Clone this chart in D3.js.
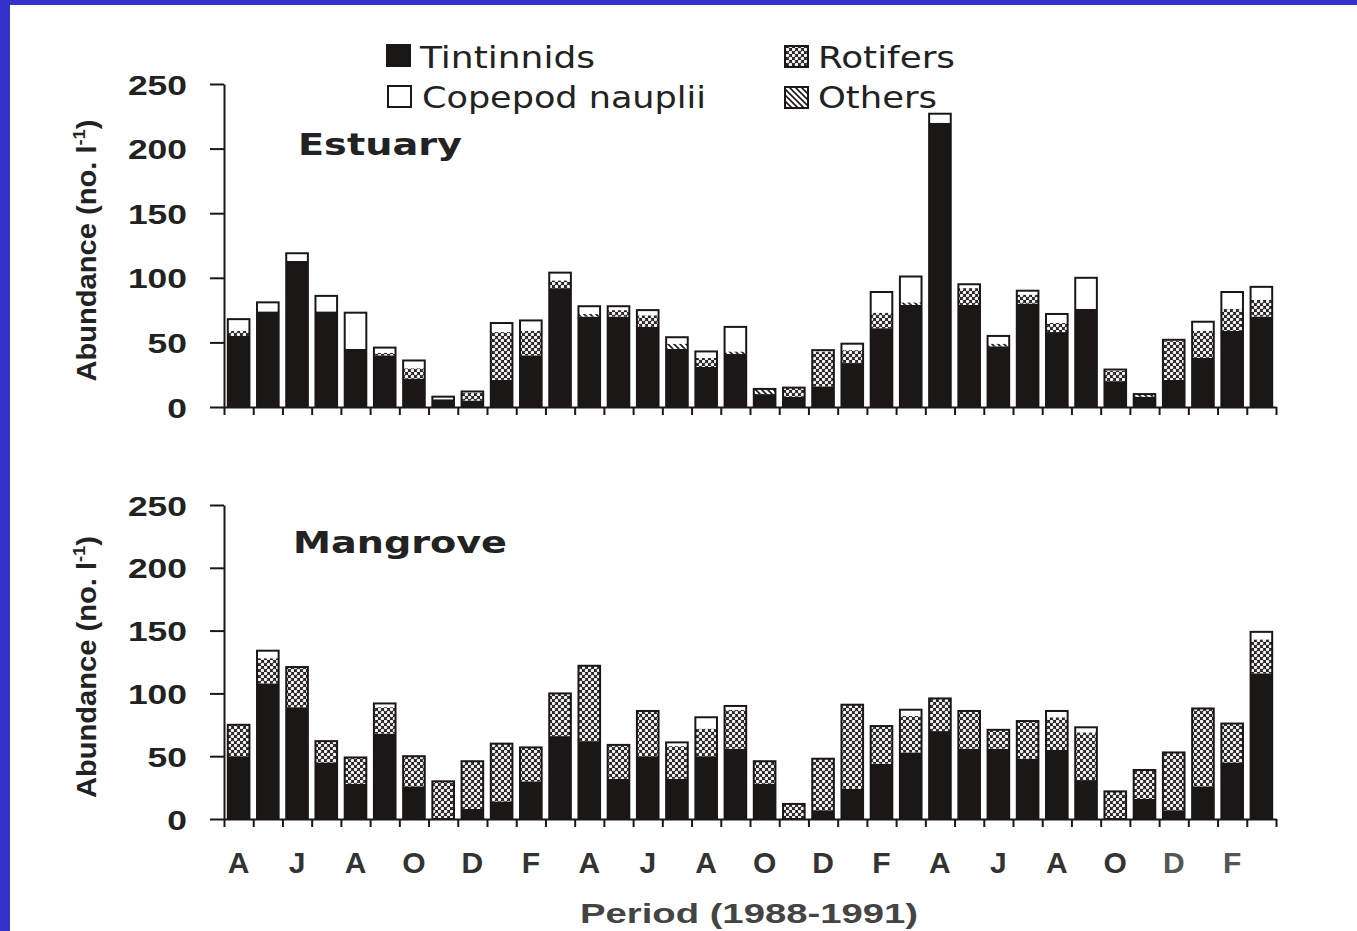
<!DOCTYPE html>
<html>
<head>
<meta charset="utf-8">
<script src="https://cdn.jsdelivr.net/npm/d3@7"></script>
<style>
  body { margin: 0; background: #fff; }
  svg { display: block; }
</style>
</head>
<body>
<svg id="chart" width="1357" height="931"></svg>
<script>
// months Apr 1988 .. Mar 1991
const months = ["Apr88","May88","Jun88","Jul88","Aug88","Sep88","Oct88","Nov88","Dec88","Jan89","Feb89","Mar89",
                "Apr89","May89","Jun89","Jul89","Aug89","Sep89","Oct89","Nov89","Dec89","Jan90","Feb90","Mar90",
                "Apr90","May90","Jun90","Jul90","Aug90","Sep90","Oct90","Nov90","Dec90","Jan91","Feb91","Mar91"]
const monthLetters = ["A","J","A","O","D","F","A","J","A","O","D","F","A","J","A","O","D","F"]
const yTicks = [0, 50, 100, 150, 200, 250]
const seriesNames = ["Tintinnids", "Others", "Rotifers", "Copepod nauplii"]

// Estuary
const estTintinnids = [55,74,113,74,45,40,22,6,5,21,40,92,70,70,62,45,31,41,10,8,16,34,61,79,220,79,47,80,58,76,20,8,21,38,59,70]
const estOthers     = [0,0,0,0,0,0,0,0,0,0,0,0,2,0,0,4,0,2,4,0,0,0,0,2,0,0,2,0,0,0,0,2,0,0,0,0]
const estRotifers   = [4,0,0,0,0,2,8,0,6,37,19,6,0,5,9,0,7,0,0,7,27,10,12,0,0,13,0,7,7,0,8,0,30,21,17,13]
const estCopepods   = [9,7,6,12,28,4,6,2,1,7,8,6,6,3,4,5,5,19,0,0,1,5,16,20,7,3,6,3,7,24,1,0,1,7,13,10]

// Mangrove
const manTintinnids = [50,108,89,45,28,68,26,0,8,14,30,66,62,32,50,32,50,56,28,0,7,24,44,53,70,56,56,48,55,31,0,16,7,26,45,116]
const manOthers     = [0,0,0,0,0,0,0,0,0,0,0,0,0,0,0,0,0,0,0,0,0,0,0,0,0,0,0,0,0,0,0,0,0,0,0,0]
const manRotifers   = [25,20,32,17,21,21,24,30,38,46,27,34,60,27,36,26,22,31,18,12,41,67,30,29,26,30,15,30,26,38,22,23,46,62,31,27]
const manCopepods   = [0,6,0,0,0,3,0,0,0,0,0,0,0,0,0,3,9,3,0,0,0,0,0,5,0,0,0,0,5,4,0,0,0,0,0,6]

const svg = d3.select('#chart')
const W = 1357, H = 931
const ink = '#1c1717'

// blue slide frame
svg.append('rect').attr('x', 0).attr('y', 0).attr('width', W).attr('height', H).attr('fill', '#3333cc')
svg.append('rect').attr('x', 10).attr('y', 5).attr('width', W - 10).attr('height', H - 5).attr('fill', '#fff')

const defs = svg.append('defs')
const rot = defs.append('pattern').attr('id', 'rot').attr('patternUnits', 'userSpaceOnUse')
    .attr('width', 6).attr('height', 6)
rot.append('rect').attr('width', 6).attr('height', 6).attr('fill', '#2a2424')
rot.append('circle').attr('cx', 1.5).attr('cy', 1.5).attr('r', 1.75).attr('fill', '#f4f4f4')
rot.append('circle').attr('cx', 4.5).attr('cy', 4.5).attr('r', 1.75).attr('fill', '#f4f4f4')
const oth = defs.append('pattern').attr('id', 'oth').attr('patternUnits', 'userSpaceOnUse')
    .attr('width', 6).attr('height', 6)
oth.append('rect').attr('width', 6).attr('height', 6).attr('fill', '#fff')
oth.append('path').attr('d', 'M-1,-1 L7,7 M-1,5 L1,7 M5,-1 L7,1').attr('stroke', ink).attr('stroke-width', 1.6)

const fills = { "Tintinnids": ink, "Others": "url(#oth)", "Rotifers": "url(#rot)", "Copepod nauplii": "#fff" }

const x = d3.scaleBand().domain(months).range([224, 1276]).padding(0)
const xi = d3.scaleLinear().domain([0, months.length]).range([224, 1276])
const barW = x.bandwidth() * 0.74

const fit = (sel, len) => sel.attr('textLength', len).attr('lengthAdjust', 'spacingAndGlyphs')

const panels = [
    { name: "Estuary", top: 84, bottom: 407, titleX: 298, titleY: 155, titleLen: 164,
      data: [estTintinnids, estOthers, estRotifers, estCopepods] },
    { name: "Mangrove", top: 505, bottom: 819, titleX: 293, titleY: 553, titleLen: 214,
      data: [manTintinnids, manOthers, manRotifers, manCopepods] }
]

panels.forEach(p => {
    const y = d3.scaleLinear().domain([0, 250]).range([p.bottom, p.top])
    const rows = months.map((m, i) => {
        const r = { month: m }
        seriesNames.forEach((s, k) => r[s] = p.data[k][i])
        return r
    })
    const stacked = d3.stack().keys(seriesNames)(rows)

    const g = svg.append('g')
    g.selectAll('g.layer')
        .data(stacked)
        .join('g')
        .attr('class', 'layer')
        .attr('fill', d => fills[d.key])
        .selectAll('rect')
        .data(d => d.filter(v => v[1] > v[0]))
        .join('rect')
        .attr('x', d => x(d.data.month) + (x.bandwidth() - barW) / 2)
        .attr('width', barW)
        .attr('y', d => y(d[1]))
        .attr('height', d => y(d[0]) - y(d[1]))

    // outline round each whole bar
    g.selectAll('rect.outline')
        .data(rows)
        .join('rect')
        .attr('class', 'outline')
        .attr('x', d => x(d.month) + (x.bandwidth() - barW) / 2)
        .attr('width', barW)
        .attr('y', d => y(d3.sum(seriesNames, s => d[s])))
        .attr('height', d => y(0) - y(d3.sum(seriesNames, s => d[s])))
        .attr('fill', 'none')
        .attr('stroke', ink)
        .attr('stroke-width', 2)

    const yAxis = svg.append('g')
        .attr('transform', `translate(224,0)`)
        .call(d3.axisLeft(y).tickValues(yTicks).tickSize(14).tickPadding(23).tickSizeOuter(0))
    yAxis.select('.domain').attr('stroke', ink).attr('stroke-width', 2)
    yAxis.selectAll('.tick line').attr('stroke', ink).attr('stroke-width', 2)
    yAxis.selectAll('.tick text')
        .attr('font-family', 'Liberation Sans, Arial, sans-serif')
        .attr('font-weight', 'bold')
        .attr('font-size', 28)
        .attr('fill', '#222')
        .attr('dy', '0.36em')
        .each(function (d) { fit(d3.select(this), String(d).length * 19.7) })

    const xAxis = svg.append('g')
        .attr('transform', `translate(0,${p.bottom})`)
        .call(d3.axisBottom(xi).tickValues(d3.range(months.length + 1)).tickFormat('').tickSize(8).tickSizeOuter(0))
    xAxis.select('.domain').attr('stroke', ink).attr('stroke-width', 2)
    xAxis.selectAll('.tick line').attr('stroke', ink).attr('stroke-width', 2)

    svg.append('text')
        .attr('x', p.titleX).attr('y', p.titleY)
        .attr('font-family', 'DejaVu Sans, Verdana, sans-serif')
        .attr('font-weight', 'bold')
        .attr('font-size', 31)
        .attr('fill', '#222')
        .text(p.name)
        .call(fit, p.titleLen)

    const yl = svg.append('text')
        .attr('transform', `translate(96,${(p.top + p.bottom) / 2 + 5}) rotate(-90)`)
        .attr('text-anchor', 'middle')
        .attr('font-family', 'Liberation Sans, Arial, sans-serif')
        .attr('font-weight', 'bold')
        .attr('font-size', 27)
        .attr('fill', '#222')
    yl.append('tspan').text('Abundance (no. l')
    yl.append('tspan').attr('dy', -11).attr('font-size', 17).text('-1')
    yl.append('tspan').attr('dy', 11).text(')')
    yl.call(fit, 262)
})

// month letters
svg.append('g')
    .selectAll('text')
    .data(monthLetters)
    .join('text')
    .attr('x', (d, i) => x(months[i * 2]) + x.bandwidth() / 2)
    .attr('y', 873)
    .attr('text-anchor', 'middle')
    .attr('font-family', 'Liberation Sans, Arial, sans-serif')
    .attr('font-weight', 'bold')
    .attr('font-size', 30)
    .attr('fill', (d, i) => i >= 16 ? '#555' : '#333')
    .text(d => d)

svg.append('text')
    .attr('x', 749).attr('y', 923)
    .attr('text-anchor', 'middle')
    .attr('font-family', 'Liberation Sans, Arial, sans-serif')
    .attr('font-weight', 'bold')
    .attr('font-size', 28)
    .attr('fill', '#444')
    .text('Period (1988-1991)')
    .call(fit, 338)

// legend
const legend = [
    { key: "Tintinnids", x: 387, y: 45, tx: 420, ty: 68, len: 175 },
    { key: "Copepod nauplii", x: 388, y: 86, tx: 422, ty: 108, len: 284 },
    { key: "Rotifers", x: 785, y: 46, tx: 818, ty: 68, len: 137 },
    { key: "Others", x: 785, y: 87, tx: 818, ty: 108, len: 119 }
]
const lg = svg.append('g').selectAll('g').data(legend).join('g')
lg.append('rect')
    .attr('x', d => d.x).attr('y', d => d.y)
    .attr('width', 23).attr('height', 21)
    .attr('fill', d => fills[d.key])
    .attr('stroke', ink).attr('stroke-width', 2)
lg.append('text')
    .attr('x', d => d.tx).attr('y', d => d.ty)
    .attr('font-family', 'DejaVu Sans, Verdana, sans-serif')
    .attr('font-size', 30)
    .attr('fill', '#222')
    .text(d => d.key)
    .each(function (d) { fit(d3.select(this), d.len) })
</script>
</body>
</html>
